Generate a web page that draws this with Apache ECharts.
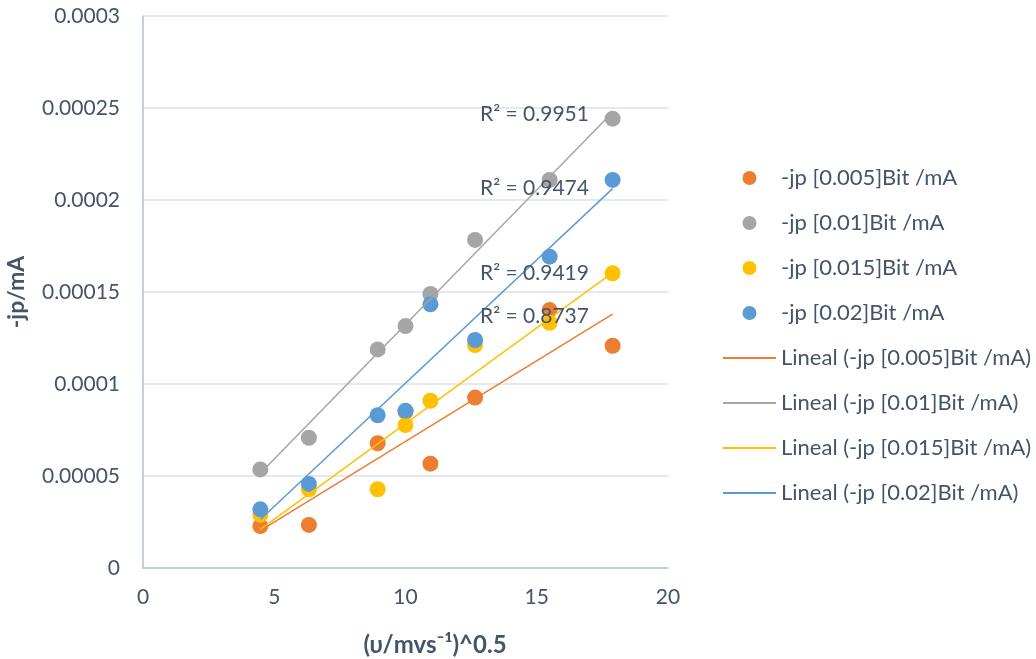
<!DOCTYPE html>
<html>
<head>
<meta charset="utf-8">
<script src="https://cdn.jsdelivr.net/npm/echarts@6/dist/echarts.min.js"></script>
<style>
  html, body { margin: 0; padding: 0; background: #ffffff; }
  #chart { width: 1036px; height: 659px; }
</style>
</head>
<body>
<div id="chart"></div>
<script>
// Sweep-rate abscissa, (υ/mVs⁻¹)^0.5
const xValues = [4.47, 6.32, 8.94, 10.0, 10.95, 12.65, 15.49, 17.89];

// Peak current -jp (mA) for each Bit concentration
const jp005 = [2.28e-5, 2.34e-5, 6.78e-5, 8.5e-5, 5.67e-5, 9.26e-5, 1.402e-4, 1.208e-4];
const jp010 = [5.36e-5, 7.08e-5, 1.188e-4, 1.315e-4, 1.489e-4, 1.783e-4, 2.109e-4, 2.442e-4];
const jp015 = [2.9e-5, 4.28e-5, 4.28e-5, 7.77e-5, 9.09e-5, 1.212e-4, 1.333e-4, 1.602e-4];
const jp020 = [3.19e-5, 4.57e-5, 8.3e-5, 8.55e-5, 1.433e-4, 1.239e-4, 1.692e-4, 2.109e-4];

const seriesNames = ['-jp [0.005]Bit /mA', '-jp [0.01]Bit /mA', '-jp [0.015]Bit /mA', '-jp [0.02]Bit /mA'];
const trendNames = seriesNames.map(n => 'Lineal (' + n + ')');
const r2Labels = ['R² = 0.9951', 'R² = 0.9474', 'R² = 0.9419', 'R² = 0.8737'];

const yTicks = { min: 0, max: 0.0003, interval: 0.00005 };
const xTicks = { min: 0, max: 20, interval: 5 };

const colors = ['#ED7D31', '#A5A5A5', '#FFC000', '#5B9BD5'];
const textColor = '#44546A';
const fontFamily = 'Lato, "Open Sans", sans-serif';

const allSeries = [jp005, jp010, jp015, jp020];

// least-squares fit, drawn across the data's x-range
function linearFit(xs, ys) {
  const n = xs.length;
  const mx = xs.reduce((a, b) => a + b, 0) / n;
  const my = ys.reduce((a, b) => a + b, 0) / n;
  let sxy = 0, sxx = 0;
  for (let i = 0; i < n; i++) {
    sxy += (xs[i] - mx) * (ys[i] - my);
    sxx += (xs[i] - mx) * (xs[i] - mx);
  }
  const slope = sxy / sxx;
  const icpt = my - slope * mx;
  const x0 = Math.min(...xs), x1 = Math.max(...xs);
  return [[x0, icpt + slope * x0], [x1, icpt + slope * x1]];
}

const scatterSeries = allSeries.map((ys, i) => ({
  name: seriesNames[i],
  type: 'scatter',
  symbol: 'circle',
  symbolSize: 16,
  itemStyle: { color: colors[i], opacity: 1 },
  z: 2,
  data: xValues.map((x, j) => [x, ys[j]])
}));

const trendSeries = allSeries.map((ys, i) => ({
  name: trendNames[i],
  type: 'line',
  symbol: 'none',
  showSymbol: false,
  lineStyle: { color: colors[i], width: 1.5 },
  itemStyle: { color: colors[i] },
  z: 3,
  silent: true,
  data: linearFit(xValues, ys)
}));

const r2Centers = [114, 188, 273, 316];

const chart = echarts.init(document.getElementById('chart'), null, { renderer: 'canvas' });
chart.setOption({
  animation: false,
  backgroundColor: '#ffffff',
  grid: { left: 143, right: 368, top: 16, bottom: 91, containLabel: false, outerBoundsMode: 'none' },
  legend: {
    orient: 'vertical',
    left: 722,
    top: 167,
    padding: 0,
    itemWidth: 53,
    itemHeight: 14,
    itemGap: 23,
    textStyle: { color: textColor, fontSize: 22, fontFamily: fontFamily },
    data: [
      ...seriesNames.map(n => ({ name: n, icon: 'circle' })),
      ...trendNames.map(n => ({ name: n, icon: 'inherit', itemStyle: { opacity: 0 } }))
    ]
  },
  xAxis: {
    type: 'value',
    min: xTicks.min, max: xTicks.max, interval: xTicks.interval,
    axisLine: { show: true, onZero: false, lineStyle: { color: '#B4C0D1', width: 1.5 } },
    axisTick: { show: false },
    splitLine: { show: false },
    axisLabel: { color: textColor, fontSize: 21, fontFamily: fontFamily, margin: 19 }
  },
  yAxis: {
    type: 'value',
    min: yTicks.min, max: yTicks.max, interval: yTicks.interval,
    name: '-jp/mA',
    nameLocation: 'middle',
    nameGap: 115,
    nameTextStyle: { color: textColor, fontSize: 23, fontWeight: 'bold', fontFamily: fontFamily },
    axisLine: { show: true, lineStyle: { color: '#B4C0D1', width: 1.5 } },
    axisTick: { show: false },
    splitLine: { show: true, lineStyle: { color: '#DDE2E9', width: 1.5 } },
    axisLabel: {
      color: textColor, fontSize: 21, fontFamily: fontFamily, margin: 23,
      formatter: v => String(parseFloat(v.toFixed(6)))
    }
  },
  graphic: [
    {
      type: 'text',
      x: 435,
      y: 645,
      style: {
        text: '(υ/mvs⁻¹)^0.5',
        fill: textColor,
        font: 'bold 24px ' + fontFamily,
        textAlign: 'center',
        textVerticalAlign: 'middle'
      }
    },
    ...r2Labels.map((t, i) => ({
      type: 'text',
      x: 480,
      y: r2Centers[i],
      z: 10,
      style: {
        text: t, fill: textColor, font: '21px ' + fontFamily,
        textAlign: 'left', textVerticalAlign: 'middle'
      }
    }))
  ],
  series: [...scatterSeries, ...trendSeries]
});
</script>
</body>
</html>
